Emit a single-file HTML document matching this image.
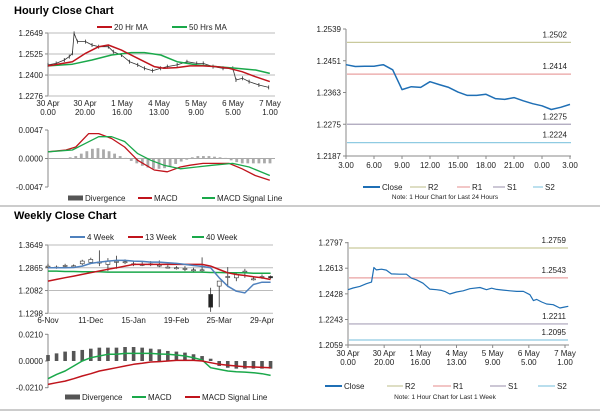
<!DOCTYPE html>
<html><head><meta charset="utf-8"><style>
html,body{margin:0;padding:0;background:#fff;}
svg{display:block;font-family:"Liberation Sans",sans-serif;}
</style></head><body>
<svg id="root" width="600" height="413" viewBox="0 0 600 413" xmlns="http://www.w3.org/2000/svg">
<text x="14" y="14" font-size="11" font-weight="bold">Hourly Close Chart</text>
<line x1="0" y1="206" x2="600" y2="206" stroke="#999" stroke-width="1"/>
<text x="14" y="219" font-size="11" font-weight="bold">Weekly Close Chart</text>
<line x1="0" y1="410" x2="600" y2="410" stroke="#999" stroke-width="1"/>
</svg>
<script>
// ---- Hourly close (left top) ----
const hcIdx = [0,4.4,8.8,11.5,13.2,14.1,15.9,20.3,23.8,27.4,32.6,35.3,39.7,44.1,48.5,52.1,56.5,60.9,64.5,69.8,75.1,80.4,83.9,89.2,94.6,99.9,101.6,105.2,108.7,114,119.3];
const hcVal = [1.2460,1.2469,1.2489,1.2509,1.2529,1.2647,1.2598,1.2598,1.2578,1.2568,1.2568,1.2538,1.2519,1.2479,1.2460,1.2440,1.2426,1.2440,1.2450,1.2460,1.2479,1.2469,1.2469,1.2450,1.2440,1.2440,1.2371,1.2381,1.2361,1.2341,1.2327];
const ma20Idx = [0,13.2,20.3,27.4,32.6,39.7,48.5,57.4,62.6,69.6,76.7,83.7,90.8,97.8,104.9,111.9,119.9];
const ma20Val = [1.2454,1.2479,1.2529,1.2568,1.2578,1.2548,1.2499,1.2450,1.2440,1.2444,1.2454,1.2454,1.2450,1.2440,1.2420,1.2391,1.2361];
const ma50Idx = [0,13.2,23.8,34.4,45,52.1,60.9,69.8,80.4,90.9,101.6,112.2,119.9];
const ma50Val = [1.2454,1.2464,1.2489,1.2519,1.2533,1.2533,1.2519,1.2479,1.2460,1.2450,1.2440,1.2430,1.2410];
const hTicksTop = ["30 Apr","30 Apr","1 May","4 May","5 May","6 May","7 May"];
const hTicksBot = ["0.00","20.00","16.00","13.00","9.00","5.00","1.00"];
const hYTicks = [1.2649,1.2525,1.2400,1.2276];
// hourly MACD
const hmIdx = [0,9.7,15,22,27.4,34.4,41.4,48.5,57.4,64.5,71.5,76.8,83.8,90.9,97.9,104.9,112,119.9];
const hmMacd = [0.0011,0.0014,0.0019,0.0041,0.0041,0.0033,0.0019,-0.0003,-0.0019,-0.0022,-0.0014,-0.0011,-0.0008,-0.0008,-0.0008,-0.0017,-0.0028,-0.0036];
const hsIdx = [0,13.2,20.3,27.4,34.4,41.4,48.5,55.6,62.6,71.5,80.4,89.2,99.8,108.7,119.9];
const hsSig = [0.0011,0.0014,0.0025,0.0036,0.0036,0.0028,0.0008,-0.0003,-0.0011,-0.0017,-0.0014,-0.0011,-0.0008,-0.0014,-0.0028];
const hDiv = [0,0,0,0,0.0002,0.0004,0.0008,0.0012,0.0016,0.0017,0.0015,0.0012,0.0008,0.0004,0.0001,-0.0004,-0.0008,-0.0012,-0.0015,-0.0017,-0.0017,-0.0016,-0.0013,-0.0009,-0.0005,-0.0002,0.0002,0.0004,0.0004,0.0004,0.0003,0.0002,0.0001,-0.0003,-0.0006,-0.0008,-0.0008,-0.0008,-0.0008,-0.0008,-0.0008];
const hMacdTicks = [0.0047,0,-0.0047];
const hMacdTickLabels = ["0.0047","0.0000","-0.0047"];

// ---- 24h chart (right top) ----
const d24Close = [1.2440,1.2435,1.2436,1.2436,1.2440,1.2426,1.2371,1.2379,1.2377,1.2393,1.2385,1.2377,1.2364,1.2355,1.2355,1.2358,1.2346,1.2344,1.2349,1.2340,1.2332,1.2326,1.2316,1.2322,1.2330];
const d24Ticks = ["3.00","6.00","9.00","12.00","15.00","18.00","21.00","0.00","3.00"];
const d24YTicks = [1.2539,1.2451,1.2363,1.2275,1.2187];
const d24Levels = [1.2502,1.2414,1.2275,1.2224];
const levelNames = ["R2","R1","S1","S2"];

// ---- 1 week chart (right bottom) ----
const wkIdx = [0,2.8,6.5,10.2,13,14.3,15.7,18.5,21.2,24,28.6,32.3,35.1,37.8,41.5,45.2,48.9,51.7,53.5,56.3,60,63.7,67.4,73,76.6,79.4,82.2,85.9,89.6,93.3,97,100.6,102.5,104.3,107.1,109.8,113.5,117.2,119.9,121.8];
const wkVal = [1.2458,1.2470,1.2482,1.2501,1.2513,1.2618,1.2601,1.2606,1.2599,1.2572,1.2570,1.2570,1.2541,1.2529,1.2505,1.2462,1.2458,1.2453,1.2446,1.2427,1.2441,1.2450,1.2465,1.2474,1.2458,1.2469,1.2460,1.2455,1.2450,1.2446,1.2446,1.2422,1.2379,1.2388,1.2369,1.2355,1.2350,1.2326,1.2333,1.2338];
const wkYTicks = [1.2797,1.2613,1.2428,1.2243,1.2059];
const wkLevels = [1.2759,1.2543,1.2211,1.2095];

// ---- weekly chart (left bottom) ----
const wOpen  = [1.2922,1.2888,1.2945,1.2934,1.3003,1.3049,1.3061,1.2980,1.3049,1.3061,1.3003,1.2980,1.3003,1.2957,1.2888,1.2865,1.2842,1.2795,1.2795,1.1947,1.2234,1.2565,1.2519,1.2749,1.2484,1.2565,1.2565];
const wClose = [1.2922,1.2888,1.2945,1.2934,1.3095,1.3153,1.3061,1.3095,1.3084,1.3072,1.3003,1.2980,1.3003,1.2957,1.2888,1.2865,1.2842,1.2795,1.2795,1.1509,1.2407,1.2565,1.2634,1.2749,1.2484,1.2565,1.2519];
const wHigh  = [1.3003,1.2945,1.3003,1.2980,1.3141,1.3211,1.3465,1.3199,1.3280,1.3153,1.3095,1.3072,1.3095,1.3118,1.2957,1.2922,1.2922,1.2865,1.3222,1.2177,1.2292,1.2888,1.2715,1.2830,1.2565,1.2634,1.2600];
const wLow   = [1.2865,1.2830,1.2888,1.2876,1.2957,1.2991,1.2922,1.2749,1.2830,1.2991,1.2922,1.2922,1.2922,1.2887,1.2842,1.2807,1.2749,1.2726,1.2726,1.1348,1.1509,1.2200,1.2403,1.2519,1.2427,1.2484,1.2484];
const w4  = [1.2865,1.2865,1.2865,1.2876,1.2922,1.3015,1.3061,1.3095,1.3118,1.3118,1.3095,1.3084,1.3061,1.3061,1.3038,1.3015,1.2980,1.2945,1.2911,1.2865,1.2519,1.2231,1.2058,1.2000,1.2288,1.2369,1.2369];
const w13 = [1.2407,1.2465,1.2523,1.2580,1.2638,1.2696,1.2753,1.2811,1.2865,1.2922,1.2980,1.2980,1.2980,1.2980,1.2980,1.2980,1.2980,1.2980,1.2980,1.2922,1.2807,1.2692,1.2634,1.2600,1.2553,1.2519,1.2461];
const w40 = [1.2749,1.2749,1.2738,1.2738,1.2726,1.2726,1.2726,1.2715,1.2715,1.2715,1.2715,1.2715,1.2715,1.2715,1.2715,1.2715,1.2715,1.2715,1.2715,1.2703,1.2703,1.2692,1.2692,1.2692,1.2680,1.2680,1.2680];
const wTicks = ["6-Nov","11-Dec","15-Jan","19-Feb","25-Mar","29-Apr"];
const wYTicks = [1.3649,1.2865,1.2082,1.1298];
const wDiv  = [0.0047,0.0060,0.0074,0.0079,0.0087,0.0097,0.0105,0.0105,0.0105,0.0110,0.0110,0.0105,0.0097,0.0092,0.0079,0.0074,0.0066,0.0053,0.0039,0.0018,-0.0039,-0.0053,-0.0060,-0.0060,-0.0060,-0.0060,-0.0060];
const wMacd = [-0.0139,-0.0105,-0.0079,-0.0039,0,0.0026,0.0039,0.0053,0.0053,0.0060,0.0060,0.0060,0.0060,0.0055,0.0053,0.0047,0.0039,0.0026,0.0008,-0.0053,-0.0066,-0.0079,-0.0084,-0.0087,-0.0092,-0.0100,-0.0113];
const wSig  = [-0.0184,-0.0171,-0.0158,-0.0139,-0.0118,-0.0100,-0.0079,-0.0066,-0.0053,-0.0039,-0.0026,-0.0018,-0.0008,-0.0005,0,0.0005,0.0005,0.0005,0,-0.0013,-0.0026,-0.0034,-0.0039,-0.0045,-0.0047,-0.0050,-0.0053];
const wMacdTicks = [0.021,0,-0.021];
const wMacdTickLabels = ["0.0210","0.0000","-0.0210"];

const NS = "http://www.w3.org/2000/svg";
const root = document.getElementById("root");
function mk(tag, attrs, parent){
  const e = document.createElementNS(NS, tag);
  for (const k in attrs) e.setAttribute(k, attrs[k]);
  (parent || root).appendChild(e);
  return e;
}
function lin(d0,d1,r0,r1){ return v => r0 + (v-d0)/(d1-d0)*(r1-r0); }
function txt(x,y,s,opts){
  const t = mk("text", Object.assign({x:x,y:y,"font-size":8,fill:"#222"}, opts||{}));
  t.textContent = s;
  return t;
}
function poly(xs, ys, xf, yf, color, w, name){
  const pts = xs.map((x,i)=> xf(x).toFixed(1)+","+yf(ys[i]).toFixed(1)).join(" ");
  const p = mk("polyline",{points:pts,fill:"none",stroke:color,"stroke-width":w,"stroke-linejoin":"round"});
  
  
  return p;
}
function legendLine(x1,x2,y,color,label,w){
  const l = mk("line",{x1:x1,y1:y,x2:x2,y2:y,stroke:color,"stroke-width":w||2});
  
  
  const t = txt(x2+2,y+3,label);
  
  
}
function legendBox(x1,x2,y,color,label){
  const r = mk("rect",{x:x1,y:y-2.5,width:x2-x1,height:5,fill:color});
  
  
  const t = txt(x2+2,y+3,label);
  
  
}
function yAxis(x, y0, y1, ticks, labels, yf, x2, gridColor){
  const a = mk("line",{x1:x,y1:y0,x2:x,y2:y1,stroke:"#888","stroke-width":1});
  
  
  ticks.forEach((v,i)=>{
    const y = yf(v);
    if (gridColor){
      const g = mk("line",{x1:x,y1:y,x2:x2,y2:y,stroke:gridColor,"stroke-width":1});
      
      
    }
    const tk = mk("line",{x1:x-3,y1:y,x2:x,y2:y,stroke:"#888","stroke-width":1});
    
    
    const t = txt(x-5,y+3,labels ? labels[i] : v.toFixed(4),{"text-anchor":"end"});
    
    
  });
}

// ===== Panel 1: Hourly close =====
(function(){
  const xf = lin(0,120,48,270), yf = lin(1.2649,1.2276,33,96);
  yAxis(48,33,96,hYTicks,null,yf,275,"#bbb");
  hTicksTop.forEach((s,i)=>{
    const x = xf(i*20);
    const a = txt(x,106,s,{"text-anchor":"middle"});
    
    
    const b = txt(x,115,hTicksBot[i],{"text-anchor":"middle"});
    
    
  });
  poly(hcIdx,hcVal,xf,yf,"#333",0.8,"hourly-close-series");
  hcIdx.forEach((x,i)=>{
    const c = mk("line",{x1:xf(x),y1:yf(hcVal[i])-2,x2:xf(x),y2:yf(hcVal[i])+2,stroke:"#333","stroke-width":0.8});
    
    
  });
  poly(ma50Idx,ma50Val,xf,yf,"#1aa84a",1.5,"ma50-line");
  poly(ma20Idx,ma20Val,xf,yf,"#c0141c",1.5,"ma20-line");
  legendLine(97,112,27,"#c0141c","20 Hr MA");
  legendLine(172,187,27,"#1aa84a","50 Hrs MA");

  // MACD
  const myf = lin(0.0047,-0.0047,130,187);
  yAxis(48,130,187,hMacdTicks,hMacdTickLabels,myf,275,null);
  const z = mk("line",{x1:48,y1:myf(0),x2:275,y2:myf(0),stroke:"#aaa","stroke-width":1});
  
  
  hDiv.forEach((v,i)=>{
    const x = xf(i*3);
    const y0 = myf(0), y1 = myf(v);
    const b = mk("rect",{x:x-1.4,y:Math.min(y0,y1),width:2.8,height:Math.abs(y1-y0),fill:"#aaa"});
    
    
  });
  poly(hmIdx,hmMacd,xf,myf,"#c0141c",1.3,"hourly-macd-line");
  poly(hsIdx,hsSig,xf,myf,"#1aa84a",1.3,"hourly-signal-line");
  legendBox(68,83,198,"#555","Divergence");
  legendLine(138,152,198,"#c0141c","MACD");
  legendLine(202,215,198,"#1aa84a","MACD Signal Line");
})();

const levelColors = ["#c9c99c","#eaa2a2","#a9a2b9","#8fcbe2"];

// ===== Panel 2: 24h =====
(function(){
  const xf = lin(0,24,346,570), yf = lin(1.2539,1.2187,29,156);
  yAxis(346,29,156,d24YTicks,null,yf,570,null);
  const ax = mk("line",{x1:346,y1:156,x2:571,y2:156,stroke:"#888","stroke-width":1});
  
  
  d24Ticks.forEach((s,i)=>{
    const x = xf(i*3);
    const tk = mk("line",{x1:x,y1:156,x2:x,y2:159,stroke:"#888","stroke-width":1});
    
    
    const t = txt(x,168,s,{"text-anchor":"middle"});
    
    
  });
  d24Levels.forEach((v,i)=>{
    const y = yf(v);
    const l = mk("line",{x1:347,y1:y,x2:571,y2:y,stroke:levelColors[i],"stroke-width":1.2});
    
    
    const t = txt(567,y-5,v.toFixed(4),{"text-anchor":"end"});
    
    
  });
  poly(d24Close.map((v,i)=>i),d24Close,xf,yf,"#1f6fb5",1.5,"close-24h-line");
  legendLine(363,380,187,"#1f6fb5","Close");
  legendLine(410,426,187,levelColors[0],"R2",1.2);
  legendLine(457,470,187,levelColors[1],"R1",1.2);
  legendLine(493,505,187,levelColors[2],"S1",1.2);
  legendLine(533,543,187,levelColors[3],"S2",1.2);
  const n = txt(445,199,"Note: 1 Hour Chart for Last 24 Hours",{"text-anchor":"middle","font-size":6.5});
  
  
})();

// ===== Panel 3: Weekly =====
(function(){
  const xf = lin(0,25,48,262), yf = lin(1.3649,1.1298,245,313.3);
  yAxis(48,245,313,wYTicks,null,yf,273,"#bbb");
  wTicks.forEach((s,i)=>{
    const t = txt(xf(i*5),323,s,{"text-anchor":"middle"});
    
    
  });
  wOpen.forEach((o,i)=>{
    const x = xf(i), c = wClose[i];
    const w = mk("line",{x1:x,y1:yf(wHigh[i]),x2:x,y2:yf(wLow[i]),stroke:"#333","stroke-width":0.8});
    
    
    const top = yf(Math.max(o,c)), bot = yf(Math.min(o,c));
    const b = mk("rect",{x:x-2,y:top,width:4,height:Math.max(1,bot-top),fill:c<o?"#222":"#fff",stroke:"#333","stroke-width":0.6});
    
    
  });
  const idx = w4.map((v,i)=>i);
  poly(idx,w40,xf,yf,"#1aa84a",1.5,"ma40-week-line");
  poly(idx,w13,xf,yf,"#c0141c",1.5,"ma13-week-line");
  poly(idx,w4,xf,yf,"#4f81bd",1.5,"ma4-week-line");
  legendLine(70,85,237,"#4f81bd","4 Week");
  legendLine(128,143,237,"#c0141c","13 Week");
  legendLine(192,204,237,"#1aa84a","40 Week");

  const myf = lin(0.021,-0.021,334.3,387.7);
  yAxis(48,334,388,wMacdTicks,wMacdTickLabels,myf,273,null);
  wDiv.forEach((v,i)=>{
    const x = xf(i), y0 = myf(0), y1 = myf(v);
    const b = mk("rect",{x:x-1.8,y:Math.min(y0,y1),width:3.6,height:Math.abs(y1-y0),fill:"#555"});
    
    
  });
  poly(idx,wMacd,xf,myf,"#1aa84a",1.5,"weekly-macd-line");
  poly(idx,wSig,xf,myf,"#c0141c",1.5,"weekly-signal-line");
  legendBox(65,80,397,"#555","Divergence");
  legendLine(132,146,397,"#1aa84a","MACD");
  legendLine(185,200,397,"#c0141c","MACD Signal Line");
})();

// ===== Panel 4: 1 week =====
(function(){
  const xf = lin(0,120,348,565), yf = lin(1.2797,1.2059,242.7,345);
  yAxis(348,242,345,wkYTicks,null,yf,568,null);
  const ax = mk("line",{x1:348,y1:345,x2:569,y2:345,stroke:"#888","stroke-width":1});
  
  
  hTicksTop.forEach((s,i)=>{
    const x = xf(i*20);
    const tk = mk("line",{x1:x,y1:345,x2:x,y2:348,stroke:"#888","stroke-width":1});
    
    
    const a = txt(x,356,s,{"text-anchor":"middle"});
    
    
    const b = txt(x,365,hTicksBot[i],{"text-anchor":"middle"});
    
    
  });
  wkLevels.forEach((v,i)=>{
    const y = yf(v);
    const l = mk("line",{x1:349,y1:y,x2:568,y2:y,stroke:levelColors[i],"stroke-width":1.2});
    
    
    const t = txt(566,y-5,v.toFixed(4),{"text-anchor":"end"});
    
    
  });
  poly(wkIdx,wkVal,xf,yf,"#1f6fb5",1.2,"close-week-line");
  legendLine(325,342,386,"#1f6fb5","Close");
  legendLine(387,403,386,levelColors[0],"R2",1.2);
  legendLine(433,451,386,levelColors[1],"R1",1.2);
  legendLine(490,506,386,levelColors[2],"S1",1.2);
  legendLine(538,555,386,levelColors[3],"S2",1.2);
  const n = txt(445,399,"Note: 1 Hour Chart for Last 1 Week",{"text-anchor":"middle","font-size":6.5});
  
  
})();
</script>
</body></html>
